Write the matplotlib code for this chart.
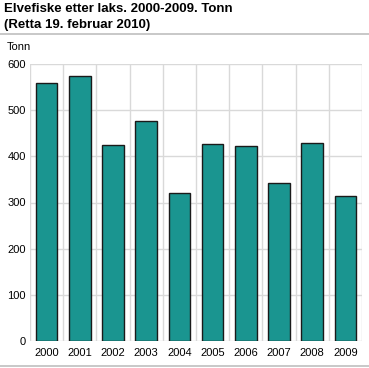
import matplotlib
matplotlib.use("Agg")
import matplotlib.pyplot as plt
from matplotlib.lines import Line2D

years = ["2000", "2001", "2002", "2003", "2004", "2005", "2006", "2007", "2008", "2009"]
values = [559, 574, 424, 477, 321, 427, 423, 343, 429, 314]
yticks = [0, 100, 200, 300, 400, 500, 600]

plt.rcParams['font.family'] = ['Liberation Sans', 'DejaVu Sans']

W, H = 369, 368
fig = plt.figure(figsize=(W / 100, H / 100), dpi=100)
ax = fig.add_axes([30 / W, 1 - 341 / H, (362 - 30) / W, (341 - 64) / H])

x = list(range(len(years)))
ax.bar(x, values, width=0.65, color="#1a9590", edgecolor="#1a1a1a", linewidth=1.0, zorder=3)

ax.set_xlim(-0.5, len(years) - 0.5)
ax.set_ylim(0, 600)
ax.set_yticks(yticks)
ax.set_yticklabels([str(v) for v in yticks], fontsize=8)
ax.set_xticks(x)
ax.set_xticklabels(years, fontsize=8)
ax.tick_params(length=0, pad=3, colors="#000000")
ax.tick_params(axis="x", pad=5)

for v in yticks:
    ax.axhline(v, color="#d9d9d9", linewidth=1, zorder=1)
for b in range(len(years) + 1):
    ax.axvline(b - 0.5, color="#d9d9d9", linewidth=1, zorder=1)
for s in ax.spines.values():
    s.set_visible(False)

fig.text(4 / W, 1 - 9 / H, "Elvefiske etter laks. 2000-2009. Tonn", fontsize=9.5, fontweight="bold",
         va="center", ha="left")
fig.text(4 / W, 1 - 25 / H, "(Retta 19. februar 2010)", fontsize=9.5, fontweight="bold",
         va="center", ha="left")
fig.add_artist(Line2D([0, 1], [1 - 34 / H, 1 - 34 / H], color="#bfbfbf", linewidth=1.2,
                      transform=fig.transFigure))
fig.add_artist(Line2D([0, 1], [1 - 365.5 / H, 1 - 365.5 / H], color="#bfbfbf", linewidth=1.2,
                      transform=fig.transFigure))
fig.text(7 / W, 1 - 47 / H, "Tonn", fontsize=8, va="center", ha="left")

fig.savefig("out.png", dpi=100)
